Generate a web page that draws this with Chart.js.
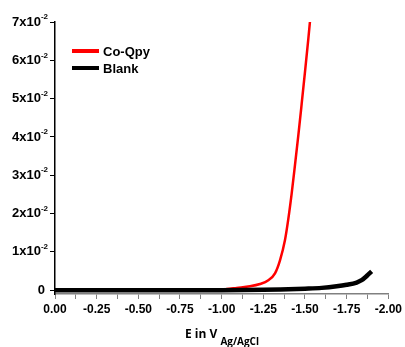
<!DOCTYPE html>
<html>
<head>
<meta charset="utf-8">
<script src="https://cdn.jsdelivr.net/npm/chart.js@4.4.1/dist/chart.umd.min.js"></script>
<style>
  html, body { margin: 0; padding: 0; background: #fff; }
  #wrap { width: 405px; height: 347px; }
</style>
</head>
<body>
<div id="wrap"><canvas id="cv"></canvas></div>
<script>
// potential (V vs Ag/AgCl) and current
const coQpyE = [0.00, -0.50, -1.00, -1.03, -1.09, -1.17, -1.23, -1.28, -1.32, -1.35, -1.38, -1.40, -1.42, -1.44, -1.46, -1.48, -1.50, -1.52, -1.54];
const coQpyI = [0.0000, 0.0000, 0.0001, 0.0003, 0.0006, 0.0010, 0.0016, 0.0026, 0.0044, 0.0078, 0.0131, 0.0186, 0.0252, 0.0327, 0.0404, 0.0486, 0.0570, 0.0656, 0.0748];

const blankE = [0.00, -0.25, -0.50, -0.75, -1.00, -1.25, -1.35, -1.50, -1.60, -1.69, -1.75, -1.81, -1.84, -1.86, -1.88, -1.90];
const blankI = [0.0000, 0.0000, 0.0000, 0.0000, 0.0000, 0.0001, 0.0002, 0.0004, 0.0006, 0.0010, 0.0014, 0.0020, 0.0026, 0.0033, 0.0041, 0.0049];

const xTickValues = [0, -0.25, -0.5, -0.75, -1, -1.25, -1.5, -1.75, -2];
const xTickLabels = ['0.00', '-0.25', '-0.50', '-0.75', '-1.00', '-1.25', '-1.50', '-1.75', '-2.00'];
const yTickValues = [0, 0.01, 0.02, 0.03, 0.04, 0.05, 0.06, 0.07];
const yTickLabels = ['0', '1', '2', '3', '4', '5', '6', '7'];

const seriesNames = ['Co-Qpy', 'Blank'];
const seriesColors = ['#ff0000', '#000000'];

const toPoints = (xs, ys) => xs.map((x, i) => ({ x: x, y: ys[i] }));

const bold = (size, fam) => 'bold ' + size + 'px ' + (fam || '"Liberation Sans", Arial, sans-serif');

// y labels with real superscripts, x axis title with subscript, legend
const decorations = {
    id: 'decorations',
    afterDraw(chart) {
        const ctx = chart.ctx;
        const y = chart.scales.y;
        ctx.save();
        ctx.fillStyle = '#000';
        ctx.textBaseline = 'middle';
        yTickValues.forEach((v, i) => {
            const py = y.getPixelForValue(v);
            if (v === 0) {
                ctx.font = bold(13);
                ctx.textAlign = 'right';
                ctx.fillText('0', 45, py);
                return;
            }
            ctx.font = bold(8);
            ctx.textAlign = 'right';
            const supW = ctx.measureText('-2').width;
            ctx.fillText('-2', 48, py - 5);
            ctx.font = bold(13);
            ctx.fillText(yTickLabels[i] + 'x10', 48 - supW, py);
        });

        // x axis title: E in V_Ag/AgCl
        ctx.textAlign = 'left';
        ctx.textBaseline = 'alphabetic';
        ctx.font = bold(12, '"Open Sans", sans-serif');
        const mainTxt = 'E in V ';
        const mainW = ctx.measureText(mainTxt).width;
        ctx.font = bold(10, '"Open Sans", sans-serif');
        const subW = ctx.measureText('Ag/AgCl').width;
        const startX = 222 - (mainW + subW) / 2;
        ctx.font = bold(12, '"Open Sans", sans-serif');
        ctx.fillText(mainTxt, startX, 338);
        ctx.font = bold(10, '"Open Sans", sans-serif');
        ctx.fillText('Ag/AgCl', startX + mainW, 345);

        // legend
        const rows = [51, 68];
        seriesNames.forEach((name, i) => {
            ctx.strokeStyle = seriesColors[i];
            ctx.lineWidth = 4;
            ctx.beginPath();
            ctx.moveTo(72, rows[i]);
            ctx.lineTo(99, rows[i]);
            ctx.stroke();
            ctx.font = bold(13);
            ctx.textBaseline = 'middle';
            ctx.fillText(name, 103, rows[i] + 1);
        });
        ctx.restore();
    }
};

new Chart(document.getElementById('cv'), {
    type: 'line',
    data: {
        datasets: [
            {
                label: seriesNames[1],
                data: toPoints(blankE, blankI),
                borderColor: seriesColors[1],
                borderWidth: 4.5,
                pointRadius: 0,
                cubicInterpolationMode: 'monotone'
            },
            {
                label: seriesNames[0],
                data: toPoints(coQpyE, coQpyI),
                borderColor: seriesColors[0],
                borderWidth: 2.5,
                pointRadius: 0,
                cubicInterpolationMode: 'monotone'
            }
        ]
    },
    options: {
        responsive: true,
        maintainAspectRatio: false,
        animation: false,
        layout: { padding: { left: 0, right: 16, top: 22, bottom: 0 } },
        plugins: { legend: { display: false }, tooltip: { enabled: false } },
        scales: {
            x: {
                type: 'linear',
                reverse: true,
                min: -2,
                max: 0,
                afterBuildTicks: (scale) => {
                    const ticks = [];
                    xTickValues.forEach((v, i) => {
                        ticks.push({ value: v });
                        if (i < xTickValues.length - 1) ticks.push({ value: (v + xTickValues[i + 1]) / 2 });
                    });
                    scale.ticks = ticks;
                },
                afterFit: (scale) => { scale.height = 53; },
                ticks: {
                    autoSkip: false,
                    maxRotation: 0,
                    padding: 3,
                    color: '#000',
                    font: { family: '"Liberation Sans", Arial, sans-serif', size: 12, weight: 'bold' },
                    callback: (value) => {
                        const i = xTickValues.indexOf(value);
                        return i >= 0 ? xTickLabels[i] : '';
                    }
                },
                grid: { drawOnChartArea: false, tickLength: 5, color: '#808080', tickWidth: 1 },
                border: { color: '#808080', width: 1.5 }
            },
            y: {
                type: 'linear',
                min: -0.0010,
                max: 0.07,
                afterBuildTicks: (scale) => {
                    scale.ticks = yTickValues.map(v => ({ value: v }));
                },
                afterFit: (scale) => { scale.width = 55; },
                ticks: { callback: () => '' },
                grid: { drawOnChartArea: false, tickLength: 5, color: '#000', tickWidth: 1 },
                border: { color: '#000', width: 1.5 }
            }
        }
    },
    plugins: [decorations]
});
</script>
</body>
</html>
